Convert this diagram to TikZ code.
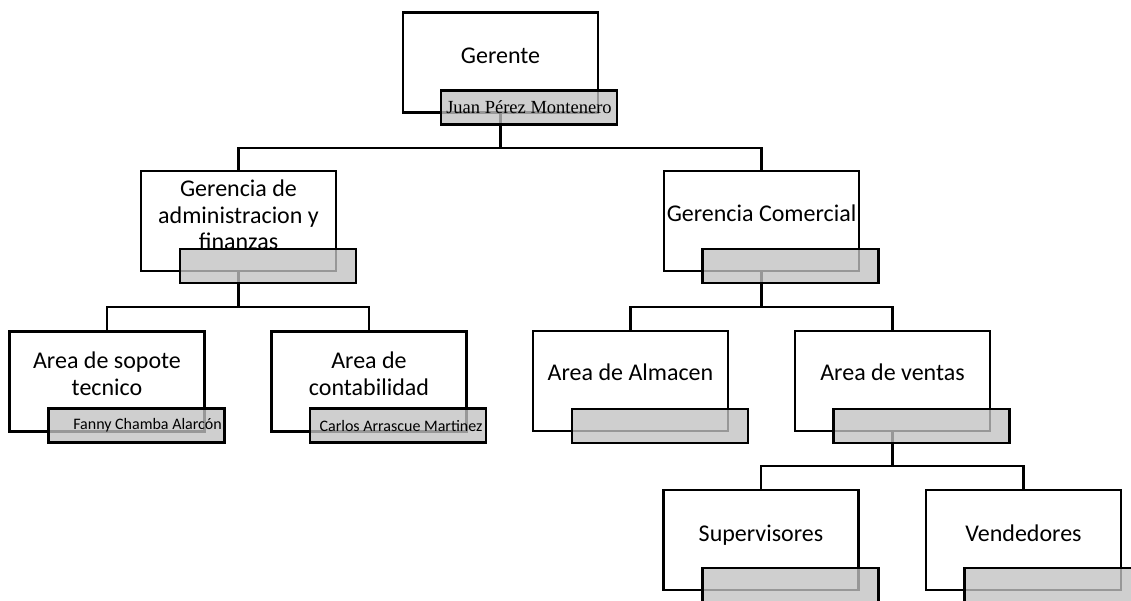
\documentclass[tikz,border=0pt]{standalone}
\usepackage{fontspec}
\setmainfont{Carlito}
\newfontfamily\timesfont{Liberation Serif}
\usetikzlibrary{backgrounds}
\begin{document}
\begin{tikzpicture}[x=1pt,y=-1pt,
  wbox/.style={draw,line width=2.2pt,fill=white,minimum width=195pt,minimum height=100pt,inner sep=0pt},
  gbox/.style={draw,line width=2.2pt,fill=black!24,fill opacity=0.78,text opacity=1,minimum width=176pt,minimum height=34pt,inner sep=0pt,font=\fontsize{16}{19}\selectfont},
  gtext/.style={inner sep=0pt,font=\fontsize{16}{19}\selectfont},
  wtext/.style={font=\fontsize{24}{26.5}\selectfont,align=center,inner sep=0pt},
  conn/.style={line width=2.2pt}]
\useasboundingbox (0,0) rectangle (1131,600);
\clip (0,0) rectangle (1131,600);

% white boxes
\node[wbox] (ger) at (500.5,62.5) {};
\node[wbox] (gaf) at (238.5,221) {};
\node[wbox] (gco) at (761.5,221) {};
\node[wbox] (sop) at (107,381.5) {};
\node[wbox] (con) at (369,381.5) {};
\node[wbox] (alm) at (630.5,381) {};
\node[wbox] (ven) at (892.5,381) {};
\node[wbox] (sup) at (761,540) {};
\node[wbox] (vnd) at (1023.5,540) {};

% texts
\node[wtext] (gert) at (500.5,58.5) {\strut Gerente};
\node[wtext] (gaft) at (238.5,218) {\strut Gerencia de\\\strut administracion y\\\strut finanzas};
\node[wtext] (gcot) at (761.5,216.5) {\strut Gerencia Comercial};
\node[wtext] (sopt) at (107,376.5) {\strut Area de sopote\\\strut tecnico};
\node[wtext] (cont) at (369,376.5) {\strut Area de\\\strut contabilidad};
\node[wtext] (almt) at (630.5,375.5) {\strut Area de Almacen};
\node[wtext] (vent) at (892.5,375.5) {\strut Area de ventas};
\node[wtext] (supt) at (761,536.5) {\strut Supervisores};
\node[wtext] (vndt) at (1023.5,536.5) {\strut Vendedores};

% grey boxes
\node[gbox,font=\fontsize{18.5}{21}\timesfont] (gerg) at (529,107.5) {Juan Pérez Montenero};
\node[gbox] (gafg) at (268,266) {};
\node[gbox] (gcog) at (790.5,266) {};
\node[gbox] (sopg) at (136.5,425.5) {};
\node[gtext] (sopgt) at (147.5,425.5) {Fanny Chamba Alarcón};
\node[gbox] (cong) at (398,425.5) {};
\node[gtext] (congt) at (401,425.5) {Carlos Arrascue Martinez};
\node[gbox] (almg) at (660,426) {};
\node[gbox] (veng) at (921.5,426) {};
\node[gbox] (supg) at (790.5,585) {};
\node[gbox] (vndg) at (1052.5,585) {};

% buses
\coordinate (bus1) at (0,148);
\coordinate (bus2) at (0,307);
\coordinate (bus3) at (0,466);

\begin{scope}[on background layer]
\draw[conn] (ger.south) -- (ger.south |- bus1) -| (gaf.north);
\draw[conn] (ger.south) -- (ger.south |- bus1) -| (gco.north);
\draw[conn] (gaf.south) -- (gaf.south |- bus2) -| (sop.north);
\draw[conn] (gaf.south) -- (gaf.south |- bus2) -| (con.north);
\draw[conn] (gco.south) -- (gco.south |- bus2) -| (alm.north);
\draw[conn] (gco.south) -- (gco.south |- bus2) -| (ven.north);
\draw[conn] (ven.south) -- (ven.south |- bus3) -| (sup.north);
\draw[conn] (ven.south) -- (ven.south |- bus3) -| (vnd.north);
\end{scope}
\end{tikzpicture}
\end{document}
